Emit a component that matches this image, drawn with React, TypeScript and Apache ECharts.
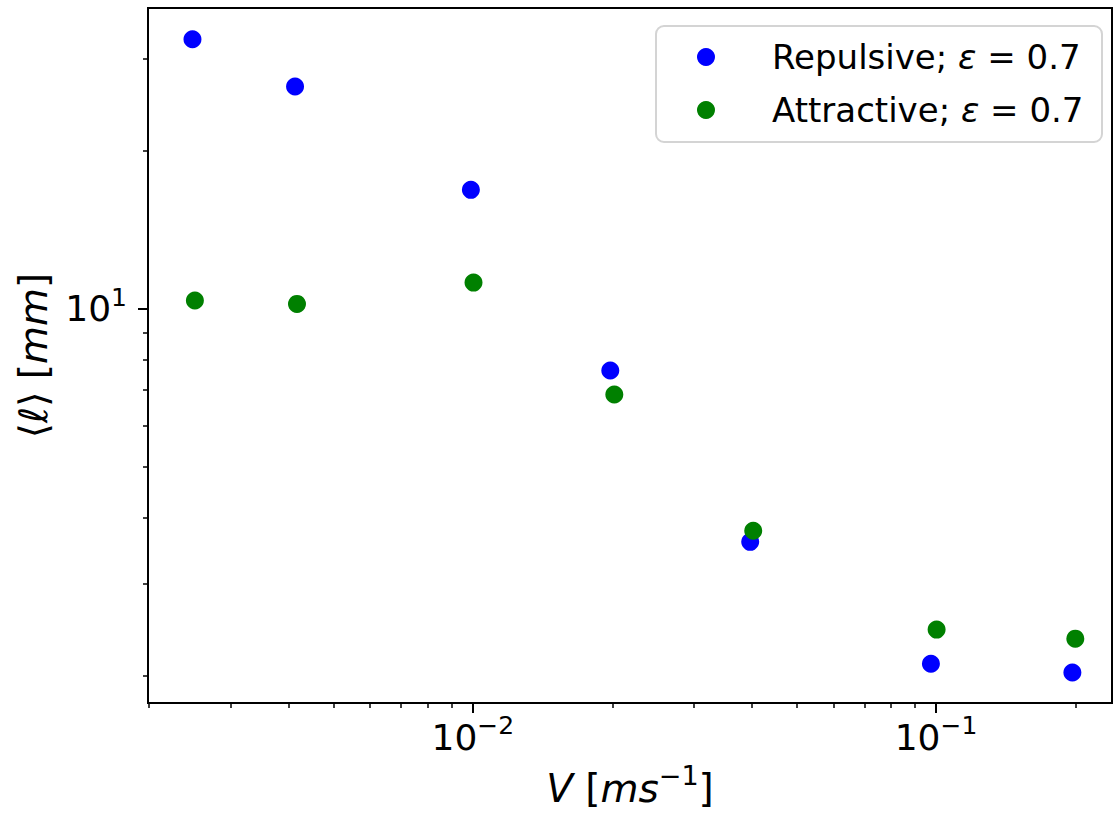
import React, { useEffect, useRef } from "react";
import * as echarts from "echarts";

// ---- data ----
const repulsiveV = [0.00248, 0.00413, 0.0099, 0.0198, 0.0397, 0.0975, 0.197];
const repulsiveL = [32.6, 26.5, 16.85, 7.63, 3.6, 2.11, 2.03];
const attractiveV = [0.00251, 0.00417, 0.01003, 0.0202, 0.0403, 0.1003, 0.1999];
const attractiveL = [10.37, 10.22, 11.22, 6.87, 3.78, 2.45, 2.355];

const seriesNames = ["Repulsive; ε = 0.7", "Attractive; ε = 0.7"];
const seriesColors = ["#0000ff", "#008000"];

const xRange = [0.001988, 0.2399];
const yRange = [1.776, 37.4];

const xMajorTicks = [0.01, 0.1];
const xTickExponents = ["−2", "−1"];
const xMinorTicks = [
  0.002, 0.003, 0.004, 0.005, 0.006, 0.007, 0.008, 0.009,
  0.02, 0.03, 0.04, 0.05, 0.06, 0.07, 0.08, 0.09, 0.2,
];
const yMajorTicks = [10];
const yTickExponents = ["1"];
const yMinorTicks = [2, 3, 4, 5, 6, 7, 8, 9, 20, 30];

const FONT = "DejaVu Sans";

function labelFor(ticks: number[], exps: string[]) {
  return (v: number) => {
    let best = 0;
    for (let i = 1; i < ticks.length; i++) {
      if (Math.abs(Math.log10(ticks[i]) - Math.log10(v)) < Math.abs(Math.log10(ticks[best]) - Math.log10(v))) best = i;
    }
    return "{b|10}{s|" + exps[best] + "}";
  };
}

const tickRich = {
  b: { fontFamily: FONT, fontSize: 36, lineHeight: 48, color: "#000" },
  s: { fontFamily: FONT, fontSize: 25, lineHeight: 25, verticalAlign: "top", color: "#000" },
};

const nameRich = {
  n: { fontFamily: FONT, fontSize: 39, lineHeight: 52, color: "#000" },
  i: { fontFamily: FONT, fontSize: 39, lineHeight: 52, fontStyle: "italic", color: "#000" },
  s: { fontFamily: FONT, fontSize: 27, lineHeight: 27, verticalAlign: "top", color: "#000" },
};

export default function App() {
  const ref = useRef<HTMLDivElement>(null);
  useEffect(() => {
    if (!ref.current) return;
    const chart = echarts.init(ref.current, null, { renderer: "svg" });
    const grid = { left: 148, top: 8, right: 2, bottom: 113 };
    const hiddenAxisBase = {
      axisLine: { show: false },
      splitLine: { show: false },
      axisLabel: { show: false },
    };
    chart.setOption({
      animation: false,
      backgroundColor: "#ffffff",
      grid: { ...grid, show: true, borderColor: "#000", borderWidth: 2, backgroundColor: "transparent" },
      graphic: [
        {
          type: "rect",
          z: 3,
          shape: { x: 656, y: 26, width: 446, height: 116, r: 8 },
          style: { fill: "#ffffff", stroke: "#d4d4d4", lineWidth: 2 },
        },
      ],
      legend: {
        show: true,
        orient: "vertical",
        left: 697,
        top: 37,
        padding: 0,
        itemGap: 13,
        itemWidth: 18,
        itemHeight: 18,
        icon: "circle",
        data: seriesNames,
        formatter: (name: string) => name.replace("ε", "{e|ε}"),
        textStyle: {
          fontFamily: FONT,
          fontSize: 34,
          lineHeight: 40,
          color: "#000",
          padding: [0, 0, 0, 52],
          rich: {
            e: { fontFamily: FONT, fontSize: 34, lineHeight: 40, fontStyle: "italic", color: "#000" },
          },
        },
      },
      xAxis: [
        {
          type: "log",
          min: xRange[0],
          max: xRange[1],
          position: "bottom",
          axisLine: { show: false },
          splitLine: { show: false },
          minorTick: { show: false },
          axisTick: {
            show: true,
            customValues: xMajorTicks,
            length: 10,
            lineStyle: { color: "#000", width: 2 },
          },
          axisLabel: {
            show: true,
            customValues: xMajorTicks,
            formatter: labelFor(xMajorTicks, xTickExponents),
            fontFamily: FONT,
            fontSize: 36,
            color: "#000",
            margin: 10,
            rich: tickRich,
          },
          name: "{i|V}{n| [}{i|ms}{s|−1}{n|]}",
          nameLocation: "middle",
          nameGap: 59,
          nameTextStyle: {
            fontFamily: FONT,
            fontSize: 39,
            color: "#000",
            rich: nameRich,
          },
        },
        {
          type: "log",
          min: xRange[0],
          max: xRange[1],
          position: "bottom",
          ...hiddenAxisBase,
          axisTick: {
            show: true,
            customValues: xMinorTicks,
            length: 5,
            lineStyle: { color: "#000", width: 1.5 },
          },
        },
      ],
      yAxis: [
        {
          type: "log",
          min: yRange[0],
          max: yRange[1],
          position: "left",
          axisLine: { show: false },
          splitLine: { show: false },
          minorTick: { show: false },
          axisTick: {
            show: true,
            customValues: yMajorTicks,
            length: 10,
            lineStyle: { color: "#000", width: 2 },
          },
          axisLabel: {
            show: true,
            customValues: yMajorTicks,
            formatter: labelFor(yMajorTicks, yTickExponents),
            fontFamily: FONT,
            fontSize: 36,
            color: "#000",
            margin: 21,
            rich: tickRich,
          },
          name: "{n|⟨}{i|ℓ}{n|⟩ [}{i|mm}{n|]}",
          nameLocation: "middle",
          nameRotate: 90,
          nameGap: 89,
          nameTextStyle: {
            fontFamily: FONT,
            fontSize: 39,
            color: "#000",
            rich: nameRich,
          },
        },
        {
          type: "log",
          min: yRange[0],
          max: yRange[1],
          position: "left",
          ...hiddenAxisBase,
          axisTick: {
            show: true,
            customValues: yMinorTicks,
            length: 5,
            lineStyle: { color: "#000", width: 1.5 },
          },
        },
      ],
      series: [
        {
          name: seriesNames[0],
          type: "scatter",
          xAxisIndex: 0,
          yAxisIndex: 0,
          symbol: "circle",
          symbolSize: 18,
          itemStyle: { color: seriesColors[0], opacity: 1 },
          data: repulsiveV.map((v, i) => [v, repulsiveL[i]]),
          z: 2,
        },
        {
          name: seriesNames[1],
          type: "scatter",
          xAxisIndex: 0,
          yAxisIndex: 0,
          symbol: "circle",
          symbolSize: 18,
          itemStyle: { color: seriesColors[1], opacity: 1 },
          data: attractiveV.map((v, i) => [v, attractiveL[i]]),
          z: 3,
        },
      ],
    });
    return () => chart.dispose();
  }, []);
  return (
    <div
      ref={ref}
      style={{ position: "fixed", left: 0, top: 0, width: 1114, height: 816, background: "#fff" }}
    />
  );
}
